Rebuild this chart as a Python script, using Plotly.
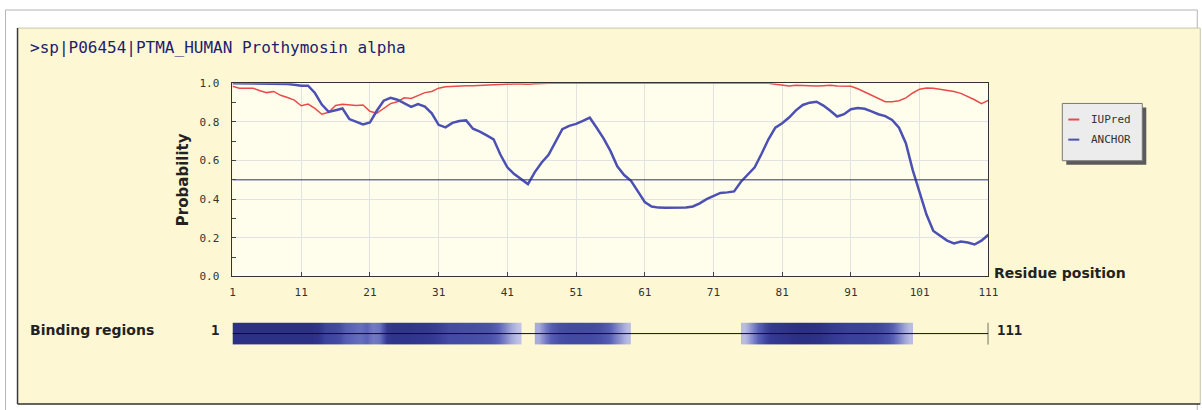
import plotly.graph_objects as go

# ---------------- data ----------------
title_text = ">sp|P06454|PTMA_HUMAN Prothymosin alpha"
seq_len = 111
residues = list(range(1, seq_len + 1))

iupred = [0.985, 0.975, 0.975, 0.975, 0.962, 0.952, 0.958, 0.938, 0.927, 0.913,
          0.884, 0.893, 0.870, 0.840, 0.850, 0.885, 0.892, 0.890, 0.885, 0.888,
          0.855, 0.845, 0.870, 0.895, 0.905, 0.925, 0.922, 0.938, 0.952, 0.958,
          0.975, 0.982, 0.985, 0.987, 0.988, 0.988, 0.990, 0.990, 0.992, 0.993,
          0.995, 0.997, 0.997, 0.995, 0.998, 1.0, 1.0, 1.0, 1.0, 1.0,
          1.0, 1.0, 1.0, 1.0, 1.0, 1.0, 1.0, 1.0, 1.0, 1.0,
          1.0, 1.0, 1.0, 1.0, 1.0, 1.0, 1.0, 1.0, 1.0, 1.0,
          1.0, 1.0, 1.0, 1.0, 1.0, 1.0, 1.0, 1.0, 1.0, 0.995,
          0.990, 0.986, 0.990, 0.988, 0.986, 0.986, 0.988, 0.990, 0.986, 0.986,
          0.985, 0.972, 0.955, 0.940, 0.925, 0.905, 0.905, 0.910, 0.925, 0.950,
          0.970, 0.976, 0.975, 0.970, 0.965, 0.958, 0.948, 0.932, 0.915, 0.895,
          0.912]

anchor = [1.0, 1.0, 1.0, 1.0, 1.0, 1.0, 1.0, 0.998, 0.997, 0.993,
          0.988, 0.988, 0.950, 0.890, 0.852, 0.861, 0.870, 0.815, 0.800, 0.787,
          0.797, 0.858, 0.910, 0.925, 0.915, 0.895, 0.878, 0.893, 0.880, 0.845,
          0.785, 0.772, 0.795, 0.805, 0.808, 0.765, 0.750, 0.730, 0.710, 0.630,
          0.565, 0.530, 0.505, 0.478, 0.540, 0.590, 0.630, 0.700, 0.763, 0.780,
          0.790, 0.805, 0.822, 0.770, 0.715, 0.650, 0.570, 0.525, 0.495, 0.440,
          0.385, 0.362, 0.356, 0.355, 0.355, 0.355, 0.357, 0.362, 0.378, 0.400,
          0.418, 0.432, 0.435, 0.440, 0.490, 0.525, 0.565, 0.635, 0.710, 0.770,
          0.793, 0.823, 0.860, 0.888, 0.900, 0.905, 0.885, 0.858, 0.828, 0.840,
          0.866, 0.872, 0.868, 0.855, 0.840, 0.830, 0.810, 0.770, 0.690, 0.550,
          0.430, 0.320, 0.235, 0.210, 0.185, 0.170, 0.180, 0.175, 0.165, 0.185,
          0.215]

threshold = 0.5
x_ticks = [1, 11, 21, 31, 41, 51, 61, 71, 81, 91, 101, 111]

# binding regions: first residue of each region and per-residue shade (1 = darkest)
region_starts = [1, 45, 75]
region_levels = [
    [0.95, 0.95, 0.95, 0.95, 0.95, 0.95, 0.95, 0.95, 0.95, 0.95, 0.95, 0.95, 0.92,
     0.80, 0.78, 0.75, 0.62, 0.58, 0.55, 0.60, 0.50, 0.55, 0.88, 0.92, 0.92,
     0.92, 0.90, 0.90, 0.88, 0.85, 0.80, 0.75, 0.75, 0.74, 0.74, 0.73, 0.72,
     0.70, 0.62, 0.48, 0.32, 0.18],
    [0.30, 0.50, 0.65, 0.72, 0.75, 0.76, 0.76, 0.76, 0.75, 0.72, 0.65, 0.52, 0.38, 0.22],
    [0.22, 0.42, 0.62, 0.78, 0.88, 0.90, 0.92, 0.95, 0.96, 0.96, 0.95, 0.94, 0.90,
     0.86, 0.84, 0.82, 0.82, 0.82, 0.80, 0.80, 0.76, 0.70, 0.55, 0.38, 0.22],
]

series_names = ["IUPred", "ANCHOR"]
series_colors = ["#e94a4a", "#4b50b2"]

# ---------------- layout helpers ----------------
W, H = 1202, 410
# positions are given in target-picture pixels and mapped to page pixels
SX, OX = 0.9894, 2.46
SY, OY = 0.9635, 6.03
def px(x):
    return ((x - OX) / SX) / W
def py(y):
    return 1 - ((y - OY) / SY) / H

fig = go.Figure()

fig.add_trace(go.Scatter(x=residues, y=iupred, mode="lines", name=series_names[0],
                         line=dict(color=series_colors[0], width=1.5), showlegend=False,
                         hoverinfo="skip"))
fig.add_trace(go.Scatter(x=residues, y=anchor, mode="lines", name=series_names[1],
                         line=dict(color=series_colors[1], width=2.5), showlegend=False,
                         hoverinfo="skip"))
fig.add_trace(go.Scatter(x=[1, seq_len], y=[threshold, threshold], mode="lines",
                         line=dict(color="#2c2c88", width=1), showlegend=False,
                         hoverinfo="skip"))

# binding regions bar (one smoothed heatmap per region)
bind_scale = [[0.0, "#e4e4f4"], [0.3, "#a8acdc"], [0.6, "#5a62b8"],
              [0.85, "#363c96"], [1.0, "#282c7e"]]
for start, levels in zip(region_starts, region_levels):
    edges = list(range(start, start + len(levels) + 1))
    fig.add_trace(go.Heatmap(x=edges, y=[0, 1], z=[levels], xaxis="x2", yaxis="y2",
                             zmin=0, zmax=1, showscale=False, hoverinfo="skip",
                             zsmooth="best", colorscale=bind_scale))
fig.add_trace(go.Scatter(x=[1, seq_len], y=[0.5, 0.5], mode="lines", xaxis="x2", yaxis="y2",
                         line=dict(color="#111111", width=1), showlegend=False, hoverinfo="skip"))
fig.add_trace(go.Scatter(x=[seq_len, seq_len], y=[0, 1], mode="lines", xaxis="x2", yaxis="y2",
                         line=dict(color="#111111", width=1.2), showlegend=False, hoverinfo="skip"))

xdom = [px(232), px(988)]
tick_font = dict(family="DejaVu Sans Mono", size=11, color="#333333")

fig.update_layout(
    width=W, height=H, margin=dict(l=0, r=0, t=0, b=0),
    paper_bgcolor="white", plot_bgcolor="rgba(0,0,0,0)",
    xaxis=dict(domain=xdom, range=[1, seq_len], tickvals=x_ticks, ticks="inside", ticklen=4,
               tickcolor="#444", showline=True, linecolor="#333", linewidth=1, mirror=True,
               showgrid=True, gridcolor="#e2e2e2", gridwidth=1, zeroline=False,
               tickfont=tick_font, ticklabelstandoff=5, anchor="y"),
    yaxis=dict(domain=[py(275), py(83)], range=[0, 1], dtick=0.2, tick0=0, tickformat=".1f",
               ticks="inside", ticklen=4, tickcolor="#444", showline=True, linecolor="#333",
               linewidth=1, mirror=True, showgrid=True, gridcolor="#e2e2e2", gridwidth=1,
               zeroline=False, tickfont=tick_font, ticklabelstandoff=10,
               minor=dict(dtick=0.1, ticks="inside", ticklen=4, tickcolor="#444", showgrid=False),
               title=dict(text="Probability", standoff=7,
                          font=dict(family="DejaVu Sans", size=15, color="#222", weight="bold")),
               anchor="x"),
    xaxis2=dict(domain=xdom, range=[1, seq_len], visible=False, anchor="y2"),
    yaxis2=dict(domain=[py(343), py(321)], range=[0, 1], visible=False, anchor="x2"),
)

shapes = [
    # outer frame
    dict(type="rect", xref="paper", yref="paper", x0=px(5), x1=px(1197), y0=py(412), y1=py(10),
         line=dict(color="#b4b4b4", width=1), fillcolor="white", layer="below"),
    # cream panel
    dict(type="rect", xref="paper", yref="paper", x0=px(17), x1=px(1200), y0=py(402), y1=py(28),
         line=dict(color="#c8c4a8", width=1), fillcolor="#fdf8d3", layer="below"),
    dict(type="line", xref="paper", yref="paper", x0=px(17), x1=px(17), y0=py(402), y1=py(28),
         line=dict(color="#3a3a3a", width=1.5), layer="below"),
    dict(type="line", xref="paper", yref="paper", x0=px(17), x1=px(1200), y0=py(402), y1=py(402),
         line=dict(color="#3a3a3a", width=1.5), layer="below"),
    # plot area
    dict(type="rect", xref="x domain", yref="y domain", x0=0, x1=1, y0=0, y1=1,
         line=dict(width=0), fillcolor="#fffdec", layer="below"),
    # legend shadow and box
    dict(type="rect", xref="paper", yref="paper", x0=px(1066), x1=px(1146), y0=py(164), y1=py(107),
         line=dict(width=0), fillcolor="#5a5a5a", layer="above"),
    dict(type="rect", xref="paper", yref="paper", x0=px(1062), x1=px(1142), y0=py(160), y1=py(103),
         line=dict(color="#777", width=1), fillcolor="#ececec", layer="above"),
    dict(type="line", xref="paper", yref="paper", x0=px(1068), x1=px(1079), y0=py(119), y1=py(119),
         line=dict(color=series_colors[0], width=2), layer="above"),
    dict(type="line", xref="paper", yref="paper", x0=px(1068), x1=px(1079), y0=py(139), y1=py(139),
         line=dict(color=series_colors[1], width=2), layer="above"),
]
fig.update_layout(shapes=shapes)

ann = [
    dict(text=title_text, x=px(27), y=py(47), xanchor="left", yanchor="middle",
         font=dict(family="DejaVu Sans Mono", size=16, color="#1e2070")),
    dict(text="<b>Residue position</b>", x=px(992), y=py(272), xanchor="left", yanchor="middle",
         font=dict(family="DejaVu Sans", size=14, color="#222")),
    dict(text="<b>Binding regions</b>", x=px(27), y=py(328), xanchor="left", yanchor="middle",
         font=dict(family="DejaVu Sans", size=14, color="#222")),
    dict(text="<b>1</b>", x=px(221), y=py(328), xanchor="right", yanchor="middle",
         font=dict(family="DejaVu Sans Mono", size=14, color="#222")),
    dict(text="<b>111</b>", x=px(995), y=py(328), xanchor="left", yanchor="middle",
         font=dict(family="DejaVu Sans Mono", size=14, color="#222")),
    dict(text=series_names[0], x=px(1089), y=py(119), xanchor="left", yanchor="middle",
         font=dict(family="DejaVu Sans Mono", size=11, color="#333")),
    dict(text=series_names[1], x=px(1089), y=py(139), xanchor="left", yanchor="middle",
         font=dict(family="DejaVu Sans Mono", size=11, color="#333")),
]
for a in ann:
    a.update(xref="paper", yref="paper", showarrow=False)
fig.update_layout(annotations=ann)

fig.write_html("out.html", config={"displayModeBar": False},
               post_script="document.body.style.margin='0';document.body.style.overflow='hidden';")
